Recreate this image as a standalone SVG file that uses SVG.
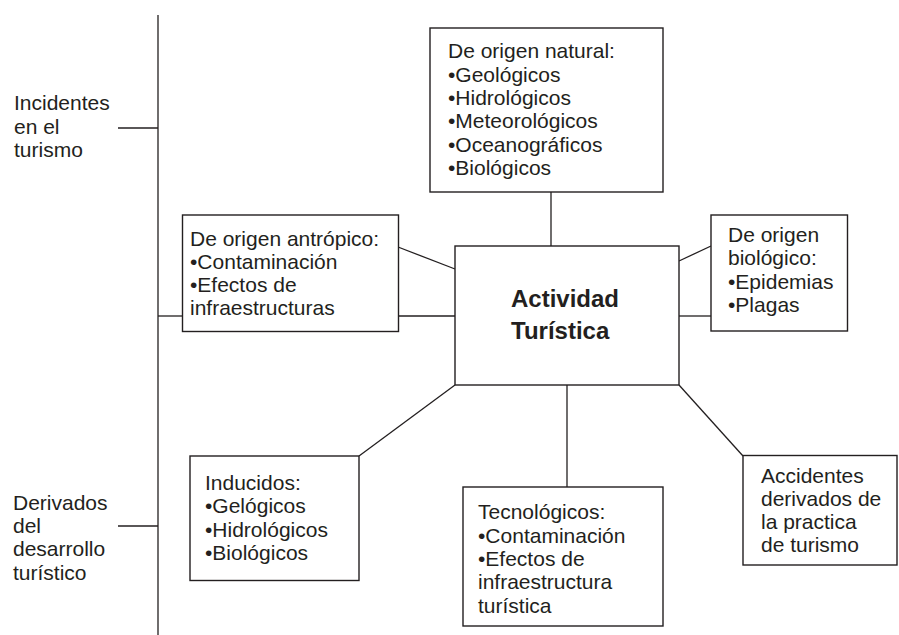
<svg xmlns="http://www.w3.org/2000/svg" width="899" height="635" viewBox="0 0 899 635">
<style>
  .box { fill: #ffffff; stroke: #231f20; stroke-width: 1.4; }
  .ln { fill: none; stroke: #231f20; stroke-width: 1.3; }
  text { font-family: "Liberation Sans", Arial, sans-serif; font-size: 21px; fill: #231f20; }
  .bold { font-weight: bold; font-size: 24px; }
</style>
<rect width="899" height="635" fill="#ffffff"/>
<g id="connectors">
  <line class="ln" x1="158" y1="15" x2="158" y2="635"/>
  <line class="ln" x1="118" y1="128" x2="158" y2="128"/>
  <line class="ln" x1="118" y1="526" x2="158" y2="526"/>
  <line class="ln" x1="158" y1="316" x2="182.5" y2="316"/>
  <line class="ln" x1="551" y1="192" x2="551" y2="246"/>
  <line class="ln" x1="398" y1="247" x2="455" y2="269"/>
  <line class="ln" x1="398" y1="316" x2="455" y2="316"/>
  <line class="ln" x1="679" y1="261" x2="711" y2="246"/>
  <line class="ln" x1="679" y1="316" x2="711" y2="316"/>
  <line class="ln" x1="359" y1="456" x2="455" y2="385"/>
  <line class="ln" x1="567" y1="385" x2="567" y2="487"/>
  <line class="ln" x1="679" y1="385" x2="743" y2="456"/>
</g>
<g id="label-incidentes">
  <text x="14" y="110">Incidentes</text>
  <text x="14" y="133.5">en el</text>
  <text x="14" y="157">turismo</text>
</g>
<g id="label-derivados">
  <text x="13" y="509.5">Derivados</text>
  <text x="13" y="533">del</text>
  <text x="13" y="556">desarrollo</text>
  <text x="13" y="579.5">turístico</text>
</g>
<g id="node-natural">
  <rect class="box" x="430" y="28" width="233" height="164"/>
  <text x="448" y="58.3">De origen natural:</text>
  <text x="448" y="81.7">•Geológicos</text>
  <text x="448" y="105">•Hidrológicos</text>
  <text x="448" y="128.3">•Meteorológicos</text>
  <text x="448" y="151.7">•Oceanográficos</text>
  <text x="448" y="175">•Biológicos</text>
</g>
<g id="node-antropico">
  <rect class="box" x="182.5" y="215" width="216" height="116.5"/>
  <text x="190" y="246">De origen antrópico:</text>
  <text x="190" y="269">•Contaminación</text>
  <text x="190" y="292">•Efectos de</text>
  <text x="190" y="315">infraestructuras</text>
</g>
<g id="node-actividad">
  <rect class="box" x="455" y="246" width="224" height="139"/>
  <text class="bold" x="511" y="307.3">Actividad</text>
  <text class="bold" x="511" y="339.3">Turística</text>
</g>
<g id="node-biologico">
  <rect class="box" x="711" y="215" width="136.5" height="116"/>
  <text x="728" y="241.5">De origen</text>
  <text x="728" y="265">biológico:</text>
  <text x="728" y="288.5">•Epidemias</text>
  <text x="728" y="312">•Plagas</text>
</g>
<g id="node-inducidos">
  <rect class="box" x="190" y="456" width="169" height="124.5"/>
  <text x="205" y="490">Inducidos:</text>
  <text x="205" y="513.3">•Gelógicos</text>
  <text x="205" y="536.7">•Hidrológicos</text>
  <text x="205" y="560">•Biológicos</text>
</g>
<g id="node-tecnologicos">
  <rect class="box" x="463" y="487" width="200" height="139"/>
  <text x="478" y="519.3">Tecnológicos:</text>
  <text x="478" y="542.7">•Contaminación</text>
  <text x="478" y="566">•Efectos de</text>
  <text x="478" y="589.3">infraestructura</text>
  <text x="478" y="612.7">turística</text>
</g>
<g id="node-accidentes">
  <rect class="box" x="743" y="455.5" width="154" height="109.5"/>
  <text x="761" y="482.7">Accidentes</text>
  <text x="761" y="506">derivados de</text>
  <text x="761" y="529">la practica</text>
  <text x="761" y="552">de turismo</text>
</g>
</svg>
